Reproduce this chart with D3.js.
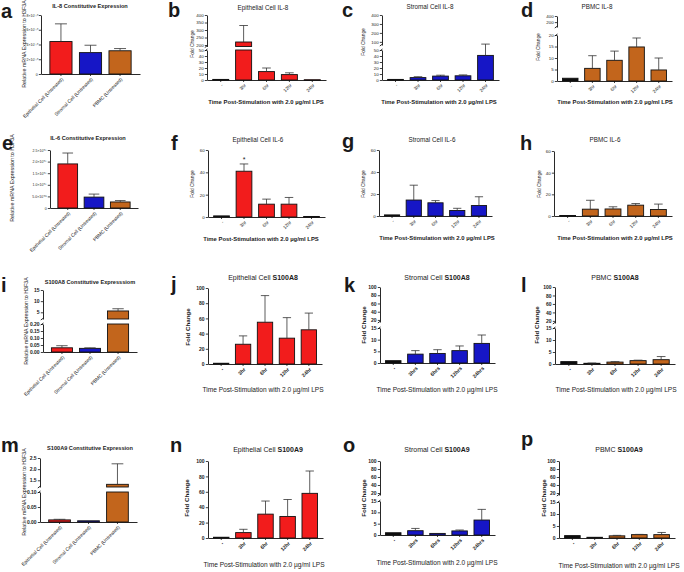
<!DOCTYPE html>
<html><head><meta charset="utf-8">
<script src="https://cdn.jsdelivr.net/npm/d3@7"></script>
<style>
body{margin:0;background:#fff}
svg{display:block}
text{font-family:"Liberation Sans",Arial,sans-serif;fill:#1a1a1a}
</style>
</head><body><svg id="c" width="684" height="572"></svg>
<script>
// ---------- categories ----------
const timeCats = ["-", "3hr", "6hr", "12hr", "24hr"];
const timeCatsHrs = ["-", "3hrs", "6hrs", "12hrs", "24hrs"];
const cellCats = ["Epithelial Cell (Untreated)", "Stromal Cell (Untreated)", "PBMC (Untreated)"];

// ---------- tick values / labels ----------
const il8ConstTicks = [0, 2, 4, 6, 8];
const il8ConstTickLabels = ["0", "2×10⁻¹⁰", "4×10⁻¹⁰", "6×10⁻¹⁰", "8×10⁻¹⁰"];
const il6ConstTicks = [0, 0.5, 1.0, 1.5, 2.0, 2.5];
const il6ConstTickLabels = ["0", "5.0×10⁻⁰⁸", "1.0×10⁻⁰⁷", "1.5×10⁻⁰⁷", "2.0×10⁻⁰⁷", "2.5×10⁻⁰⁷"];
const s100a8ConstTicksLow = [0, 0.05, 0.10, 0.15, 0.20];
const s100a8ConstTicksUp = [5, 10, 15];
const s100a9ConstTicksLow = [0, 0.05, 0.10];
const s100a9ConstTicksUp = [1.5, 2.0, 2.5];
const ticks0to50 = [0, 10, 20, 30, 40, 50];
const ticks200to400 = [200, 250, 300, 350, 400];
const ticks100to400 = [100, 200, 300, 400];
const ticks0to20 = [0, 5, 10, 15, 20];
const ticksPbmcUp = [200, 400];
const ticks0to60 = [0, 20, 40, 60];
const ticks0to100 = [0, 20, 40, 60, 80, 100];
const ticks0to15 = [0, 5, 10, 15];
const ticks20to100 = [20, 40, 60, 80, 100];

// ---------- series values (mean, upper error) ----------
const il8ConstMean = [4.4, 2.9, 3.15];
const il8ConstErr = [6.8, 3.9, 3.45];
const epiIL8Mean = [1, 220, 14, 9, 0.5];
const epiIL8Err = [null, 330, 20, 12, null];
const strIL8Mean = [1, 4, 6.5, 7, 41];
const strIL8Err = [null, 5.5, 8, 8.5, 75];
const pbmcIL8Mean = [1.2, 5.5, 9, 14.8, 4.8];
const pbmcIL8Err = [null, 11, 13, 18.7, 10];

const il6ConstMean = [1.9, 0.47, 0.26];
const il6ConstErr = [2.37, 0.6, 0.32];
const epiIL6Mean = [1, 41, 11.5, 11.5, 0.5];
const epiIL6Err = [null, 47.5, 16, 17.5, null];
const strIL6Mean = [1, 14.5, 12, 5, 9.5];
const strIL6Err = [null, 28, 14, 7, 17.5];
const pbmcIL6Mean = [0.5, 6.3, 6.5, 10, 6];
const pbmcIL6Err = [null, 14.5, 8.5, 11.5, 11];

const s100a8ConstMean = [0.03, 0.026, 5.6];
const s100a8ConstErr = [0.045, 0.03, 6.6];
const epiA8Mean = [1, 26, 55, 34, 45];
const epiA8Err = [null, 37, 90, 61, 67];
const strA8Mean = [1, 3.8, 4.1, 5.3, 8.4];
const strA8Err = [null, 5.3, 5.7, 7.3, 12];
const pbmcA8Mean = [1, 0.3, 0.8, 1.4, 1.8];
const pbmcA8Err = [null, 0.4, 1, 1.6, 3.1];

const s100a9ConstMean = [0.007, 0.004, 1.32];
const s100a9ConstErr = [0.009, null, 2.24];
const epiA9Mean = [1, 7, 31, 28, 58];
const epiA9Err = [null, 11.3, 48, 50, 87];
const strA9Mean = [1, 1.9, 0.7, 1.8, 6.6];
const strA9Err = [null, 2.9, null, 2.2, 11.3];
const pbmcA9Mean = [1, 0.3, 0.9, 1.4, 1.4];
const pbmcA9Err = [null, null, 1.1, 1.5, 2.3];

// ---------- styles ----------
const COL = {ctrl:"#0e0e0e", epi:"#f21c1c", str:"#1616c6", pb:"#c2651c"};
const cellFills = [COL.epi, COL.str, COL.pb];
const timeFills = c => [COL.ctrl, c, c, c, c];
const FONT_SMALL = {title:6.3, tick:4.4, tickW:"normal", ylab:4.8, ylabW:"normal", xtitle:5.9, xtitleW:"bold", xtick:4.8, xtickW:"normal"};
const FONT_LARGE = {title:7, tick:5, tickW:"bold", ylab:6.2, ylabW:"bold", xtitle:6.6, xtitleW:"normal", xtick:5.2, xtickW:"bold"};
const FONT_EXP = {tick:3.5, tickW:"normal"};
const XTITLE = "Time Post-Stimulation with 2.0 µg/ml LPS";
const YREL = "Relative mRNA Expression to H3F3A";

const f2 = d3.format(".2f"), f1 = d3.format(".1f"), f0 = d3.format("d");

const panels = [
  // row 1
  {letter:"a", lx:1, ly:18, kind:"cell", cats:cellCats, mean:il8ConstMean, err:il8ConstErr, fills:cellFills,
   x0:41, x1:140, lo:{d:[0,8], r:[74,15], ticks:il8ConstTicks, labels:il8ConstTickLabels},
   title:["IL-8 Constitutive Expression"], tx:90, ty:7, ylab:YREL, ylx:25, yly:44, st:FONT_SMALL, tickSt:FONT_EXP},
  {letter:"b", lx:168, ly:17, kind:"time", cats:timeCats, mean:epiIL8Mean, err:epiIL8Err, fills:timeFills(COL.epi),
   x0:207, x1:326, lo:{d:[0,50], r:[80,50], ticks:ticks0to50, fmt:f0}, up:{d:[190,400], r:[46.5,15], ticks:ticks200to400, fmt:f0},
   title:["Epithelial Cell IL-8"], tx:263, ty:8, ylab:"Fold Change", ylx:193, yly:44, xtx:266, xty:102, st:FONT_SMALL},
  {letter:"c", lx:342, ly:17, kind:"time", cats:timeCats, mean:strIL8Mean, err:strIL8Err, fills:timeFills(COL.str),
   x0:382, x1:499, lo:{d:[0,50], r:[80,50], ticks:ticks0to50, fmt:f0}, up:{d:[65,400], r:[45,15], ticks:ticks100to400, fmt:f0},
   title:["Stromal Cell IL-8"], tx:430, ty:7, ylab:"Fold Change", ylx:364, yly:42, xtx:439, xty:102, st:FONT_SMALL},
  {letter:"d", lx:521, ly:17, kind:"time", cats:timeCats, mean:pbmcIL8Mean, err:pbmcIL8Err, fills:timeFills(COL.pb),
   x0:557, x1:672, lo:{d:[0,20], r:[81,35], ticks:ticks0to20, fmt:f0}, up:{d:[40,400], r:[27,16], ticks:ticksPbmcUp, fmt:f0},
   title:["PBMC IL-8"], tx:597, ty:7, ylab:"Fold Change", ylx:539, yly:47, xtx:615, xty:102, st:FONT_SMALL},
  // row 2
  {letter:"e", lx:2, ly:150, kind:"cell", cats:cellCats, mean:il6ConstMean, err:il6ConstErr, fills:cellFills,
   x0:50, x1:138, lo:{d:[0,2.5], r:[208,150], ticks:il6ConstTicks, labels:il6ConstTickLabels},
   title:["IL-6 Constitutive Expression"], tx:88, ty:139, ylab:YREL, ylx:13, yly:178, st:FONT_SMALL, tickSt:FONT_EXP},
  {letter:"f", lx:171, ly:150, kind:"time", cats:timeCats, mean:epiIL6Mean, err:epiIL6Err, fills:timeFills(COL.epi), star:1,
   x0:208, x1:325, lo:{d:[0,60], r:[217,150], ticks:ticks0to60, fmt:f0},
   title:["Epithelial Cell IL-6"], tx:258, ty:140, ylab:"Fold Change", ylx:193, yly:184, xtx:261, xty:239, st:FONT_SMALL},
  {letter:"g", lx:342, ly:148, kind:"time", cats:timeCats, mean:strIL6Mean, err:strIL6Err, fills:timeFills(COL.str),
   x0:379, x1:492, lo:{d:[0,60], r:[216,150], ticks:ticks0to60, fmt:f0},
   title:["Stromal Cell IL-6"], tx:432, ty:140, ylab:"Fold Change", ylx:364, yly:184, xtx:437, xty:238, st:FONT_SMALL},
  {letter:"h", lx:520, ly:150, kind:"time", cats:timeCats, mean:pbmcIL6Mean, err:pbmcIL6Err, fills:timeFills(COL.pb),
   x0:554, x1:672, lo:{d:[0,60], r:[216,151], ticks:ticks0to60, fmt:f0},
   title:["PBMC IL-6"], tx:605, ty:140, ylab:"Fold Change", ylx:540, yly:184, xtx:615, xty:238, st:FONT_SMALL},
  // row 3
  {letter:"i", lx:1, ly:292, kind:"cell", cats:cellCats, mean:s100a8ConstMean, err:s100a8ConstErr, fills:cellFills,
   x0:43, x1:137, lo:{d:[0,0.2], r:[352,324], ticks:s100a8ConstTicksLow, fmt:f2}, up:{d:[2,15], r:[319,290], ticks:s100a8ConstTicksUp, fmt:f0},
   title:["S100A8 Constitutive Expresssiom"], tx:90, ty:283, ylab:YREL, ylx:27, yly:321, st:FONT_SMALL, tickSt:FONT_LARGE},
  {letter:"j", lx:171, ly:291, kind:"time", cats:timeCats, mean:epiA8Mean, err:epiA8Err, fills:timeFills(COL.epi),
   x0:208, x1:322, lo:{d:[0,100], r:[364,288], ticks:ticks0to100, fmt:f0},
   title:["Epithelial Cell ", "S100A8"], tx:263, ty:278, ylab:"Fold Change", ylx:188, yly:327, xtx:263, xty:390, st:FONT_LARGE},
  {letter:"k", lx:344, ly:292, kind:"time", cats:timeCatsHrs, mean:strA8Mean, err:strA8Err, fills:timeFills(COL.str),
   x0:380, x1:495, lo:{d:[0,15], r:[363,328], ticks:ticks0to15, fmt:f0}, up:{d:[15,100], r:[322,287], ticks:ticks20to100, fmt:f0},
   title:["Stromal Cell ", "S100A8"], tx:437, ty:278, ylab:"Fold Change", ylx:364, yly:325, xtx:437, xty:390, st:FONT_LARGE},
  {letter:"l", lx:521, ly:292, kind:"time", cats:timeCats, mean:pbmcA8Mean, err:pbmcA8Err, fills:timeFills(COL.pb),
   x0:555, x1:675, lo:{d:[0,15], r:[364,328], ticks:ticks0to15, fmt:f0}, up:{d:[15,100], r:[323,287], ticks:ticks20to100, fmt:f0},
   title:["PBMC ", "S100A8"], tx:615, ty:278, ylab:"Fold Change", ylx:537, yly:325, xtx:616, xty:390, st:FONT_LARGE},
  // row 4
  {letter:"m", lx:1, ly:452, kind:"cell", cats:cellCats, mean:s100a9ConstMean, err:s100a9ConstErr, fills:cellFills,
   x0:40, x1:137, lo:{d:[0,0.1], r:[522,492], ticks:s100a9ConstTicksLow, fmt:f2}, up:{d:[1.2,2.5], r:[487,458], ticks:s100a9ConstTicksUp, fmt:f1},
   title:["S100A9 Constitutive Expression"], tx:90, ty:449, ylab:YREL, ylx:25, yly:492, st:FONT_SMALL, tickSt:FONT_LARGE},
  {letter:"n", lx:170, ly:452, kind:"time", cats:timeCats, mean:epiA9Mean, err:epiA9Err, fills:timeFills(COL.epi),
   x0:208, x1:323, lo:{d:[0,100], r:[538,461], ticks:ticks0to100, fmt:f0},
   title:["Epithelial Cell ", "S100A9"], tx:268, ty:450, ylab:"Fold Change", ylx:187, yly:498, xtx:264, xty:565, st:FONT_LARGE},
  {letter:"o", lx:343, ly:452, kind:"time", cats:timeCatsHrs, mean:strA9Mean, err:strA9Err, fills:timeFills(COL.str),
   x0:380, x1:495, lo:{d:[0,15], r:[535,501], ticks:ticks0to15, fmt:f0}, up:{d:[15,100], r:[495,461], ticks:ticks20to100, fmt:f0},
   title:["Stromal Cell ", "S100A9"], tx:437, ty:450, ylab:"Fold Change", ylx:364, yly:498, xtx:437, xty:563, st:FONT_LARGE},
  {letter:"p", lx:521, ly:446, kind:"time", cats:timeCats, mean:pbmcA9Mean, err:pbmcA9Err, fills:timeFills(COL.pb),
   x0:559, x1:675, lo:{d:[0,15], r:[538,502], ticks:ticks0to15, fmt:f0}, up:{d:[15,100], r:[495,461], ticks:ticks20to100, fmt:f0},
   title:["PBMC ", "S100A9"], tx:619, ty:450, ylab:"Fold Change", ylx:544, yly:498, xtx:619, xty:566, st:FONT_LARGE}
];

const svg = d3.select("#c");
svg.append("rect").attr("width",684).attr("height",572).attr("fill","#fff");

function styleAxis(g, st) {
  g.selectAll("path.domain").attr("stroke","#111").attr("stroke-width",0.9);
  g.selectAll(".tick line").attr("stroke","#111").attr("stroke-width",0.8);
  g.selectAll(".tick text").attr("font-size",st.tick).attr("font-weight",st.tickW)
    .attr("font-family",'"Liberation Sans",Arial,sans-serif').attr("fill","#222");
}

function drawPanel(p) {
  const st = p.st, tst = p.tickSt || st;
  const g = svg.append("g");
  const x = d3.scaleBand().domain(p.cats).range([p.x0, p.x1])
    .paddingInner(p.kind === "time" ? 0.3 : 0.25)
    .paddingOuter(p.kind === "time" ? 0.25 : 0.3);
  const lo = d3.scaleLinear().domain(p.lo.d).range(p.lo.r);
  const up = p.up ? d3.scaleLinear().domain(p.up.d).range(p.up.r) : null;
  const loMax = p.lo.d[1];
  const y = v => {
    if (!up || v <= loMax) return lo(v);
    if (v >= p.up.d[0]) return up(v);
    const t = (v - loMax) / (p.up.d[0] - loMax);
    return lo(loMax) + t * (up(p.up.d[0]) - lo(loMax));
  };
  const y0 = lo(0);
  const bw = x.bandwidth();

  // bars
  const bars = g.append("g");
  p.mean.forEach((v, i) => {
    const bx = x(p.cats[i]);
    const pieces = (!up || v <= loMax) ? [[lo(v), y0]] :
      [[lo(loMax), y0], [up(v), up(p.up.d[0])]];
    pieces.forEach(([t, b]) => {
      bars.append("rect").attr("x", bx).attr("y", t).attr("width", bw).attr("height", Math.max(0.8, b - t))
        .attr("fill", p.fills[i]).attr("stroke", "#111").attr("stroke-width", 0.9);
    });
  });
  // error bars (upper only)
  p.err.forEach((e, i) => {
    if (e == null) return;
    const cx = x(p.cats[i]) + bw / 2, v = p.mean[i];
    g.append("line").attr("x1", cx).attr("x2", cx).attr("y1", y(v)).attr("y2", y(e))
      .attr("stroke", "#333").attr("stroke-width", 0.8);
    g.append("line").attr("x1", cx - bw * 0.27).attr("x2", cx + bw * 0.27).attr("y1", y(e)).attr("y2", y(e))
      .attr("stroke", "#333").attr("stroke-width", 0.8);
  });
  if (p.star != null) {
    const cx = x(p.cats[p.star]) + bw / 2;
    g.append("text").attr("x", cx).attr("y", y(p.err[p.star]) - 1.5).attr("text-anchor", "middle")
      .attr("font-size", 7).text("*");
  }

  // y axes
  const ayLo = d3.axisLeft(lo).tickValues(p.lo.ticks).tickSize(2.2).tickSizeOuter(0).tickPadding(1.2)
    .tickFormat(p.lo.labels ? ((d, i) => p.lo.labels[i]) : p.lo.fmt);
  const gLo = g.append("g").attr("transform", `translate(${p.x0},0)`).call(ayLo);
  styleAxis(gLo, tst);
  if (up) {
    const ayUp = d3.axisLeft(up).tickValues(p.up.ticks).tickSize(2.2).tickSizeOuter(0).tickPadding(1.2)
      .tickFormat(p.up.fmt);
    const gUp = g.append("g").attr("transform", `translate(${p.x0},0)`).call(ayUp);
    styleAxis(gUp, tst);
    // break marks
    [p.up.r[0], p.lo.r[1]].forEach(yy => {
      g.append("line").attr("x1", p.x0 - 2.2).attr("x2", p.x0 + 0.5).attr("y1", yy + 1).attr("y2", yy - 1)
        .attr("stroke", "#111").attr("stroke-width", 0.9);
    });
  }

  // x axis
  const ax = d3.axisBottom(x).tickSize(2).tickSizeOuter(0).tickFormat("");
  const gx = g.append("g").attr("transform", `translate(0,${y0})`).call(ax);
  gx.selectAll("path.domain").attr("stroke","#111").attr("stroke-width",0.9);
  gx.selectAll(".tick line").attr("stroke","#111").attr("stroke-width",0.8);
  // rotated category labels
  p.cats.forEach(c => {
    const cx = x(c) + bw / 2 + 1.5;
    const ty = y0 + 4.5;
    g.append("text").attr("x", cx).attr("y", ty)
      .attr("transform", `rotate(-45,${cx},${ty})`)
      .attr("text-anchor", "end").attr("dy", "0.35em")
      .attr("font-size", p.kind === "time" ? st.xtick : 4.8)
      .attr("font-weight", p.kind === "time" ? st.xtickW : "normal")
      .attr("fill", "#222").text(c);
  });

  // titles and labels
  const tt = g.append("text").attr("x", p.tx).attr("y", p.ty).attr("text-anchor", "middle")
    .attr("dominant-baseline", "middle");
  if (p.kind === "cell") {
    tt.attr("font-size", 5.6).attr("font-weight", "bold").text(p.title[0]);
  } else {
    tt.attr("font-size", st.title);
    tt.append("tspan").text(p.title[0]);
    if (p.title[1]) tt.append("tspan").attr("font-weight", "bold").text(p.title[1]);
  }
  g.append("text").attr("transform", `translate(${p.ylx},${p.yly}) rotate(-90)`)
    .attr("text-anchor", "middle").attr("dominant-baseline", "middle")
    .attr("font-size", p.kind === "cell" ? 5.3 : st.ylab)
    .attr("font-weight", p.kind === "cell" ? "normal" : st.ylabW).text(p.ylab);
  if (p.kind === "time") {
    g.append("text").attr("x", p.xtx).attr("y", p.xty).attr("text-anchor", "middle")
      .attr("dominant-baseline", "middle").attr("font-size", st.xtitle).attr("font-weight", st.xtitleW)
      .text(XTITLE);
  }
  // panel letter
  g.append("text").attr("x", p.lx).attr("y", p.ly).attr("font-size", 20).attr("font-weight", "bold")
    .attr("fill", "#000").text(p.letter);
}

panels.forEach(drawPanel);
</script></body></html>
